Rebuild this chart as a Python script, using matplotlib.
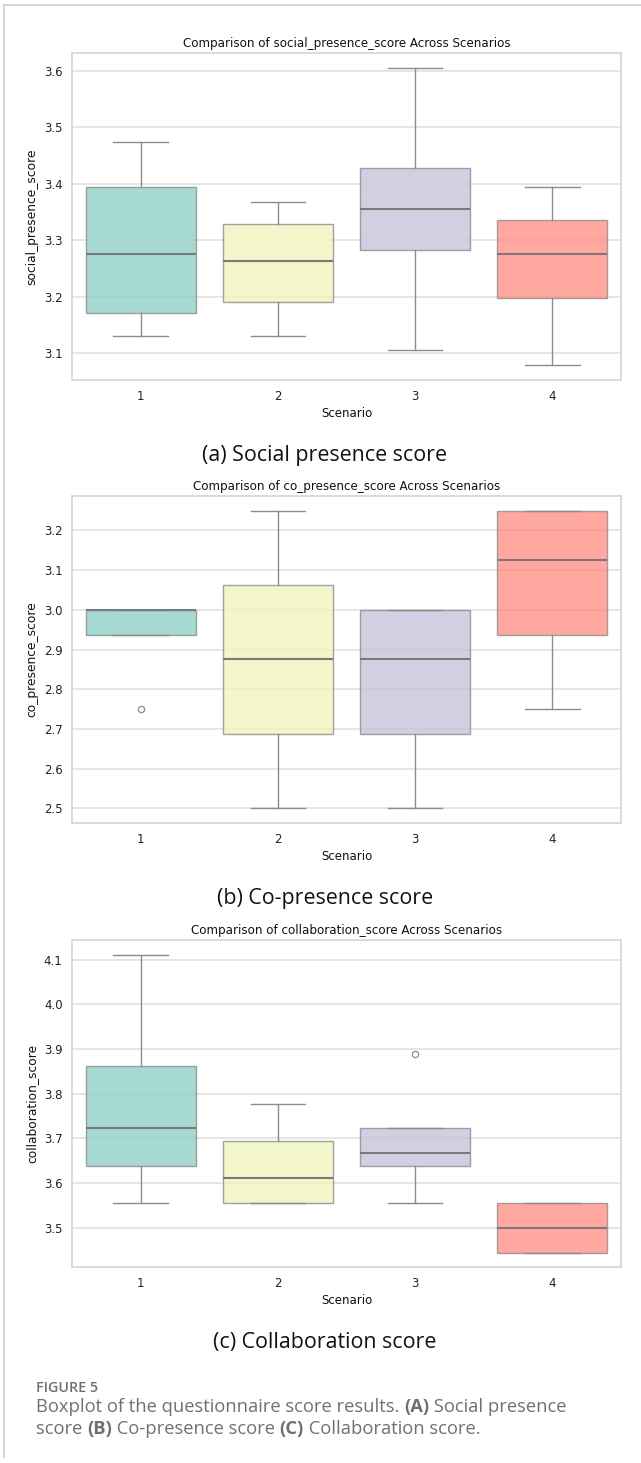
import matplotlib
matplotlib.use('Agg')
import matplotlib.pyplot as plt
from matplotlib.lines import Line2D

# scenarios on the x axis
SCENARIOS = ['1', '2', '3', '4']

# social presence score: whisker low, q1, median, q3, whisker high
SP_WHISLO = [3.1316, 3.1316, 3.1053, 3.0789]
SP_Q1 = [3.1711, 3.1908, 3.2829, 3.1974]
SP_MED = [3.2763, 3.2632, 3.3553, 3.2763]
SP_Q3 = [3.3947, 3.3289, 3.4276, 3.3355]
SP_WHISHI = [3.4737, 3.3684, 3.6053, 3.3947]
SP_FLIERS = [[], [], [], []]

# co-presence score
CP_WHISLO = [2.9375, 2.5, 2.5, 2.75]
CP_Q1 = [2.9375, 2.6875, 2.6875, 2.9375]
CP_MED = [3.0, 2.875, 2.875, 3.125]
CP_Q3 = [3.0, 3.0625, 3.0, 3.25]
CP_WHISHI = [3.0, 3.25, 3.0, 3.25]
CP_FLIERS = [[2.75], [], [], []]

# collaboration score
CO_WHISLO = [3.5556, 3.5556, 3.5556, 3.4444]
CO_Q1 = [3.6389, 3.5556, 3.6389, 3.4444]
CO_MED = [3.7222, 3.6111, 3.6667, 3.5]
CO_Q3 = [3.8611, 3.6944, 3.7222, 3.5556]
CO_WHISHI = [4.1111, 3.7778, 3.7222, 3.5556]
CO_FLIERS = [[], [], [3.8889], []]

PANELS = [
    ('social_presence_score', '(a) Social presence score',
     SP_WHISLO, SP_Q1, SP_MED, SP_Q3, SP_WHISHI, SP_FLIERS),
    ('co_presence_score', '(b) Co-presence score',
     CP_WHISLO, CP_Q1, CP_MED, CP_Q3, CP_WHISHI, CP_FLIERS),
    ('collaboration_score', '(c) Collaboration score',
     CO_WHISLO, CO_Q1, CO_MED, CO_Q3, CO_WHISHI, CO_FLIERS),
]

# box colours (Set3-like, seen through alpha)
BOX_COLORS = ['#90d0c7', '#f1f3bd', '#c9c3db', '#fe9288']
LINE_COLOR = '#8c8c8c'
GRID_COLOR = '#e0e0e0'
CAPTION_GRAY = '#6f7072'

W, H = 641, 1463
plt.rcParams['font.family'] = ['DejaVu Sans']
fig = plt.figure(figsize=(W / 100, H / 100), dpi=100)


def fx(px):
    return px / W


def fy(py):
    return 1 - py / H


AX_LEFT, AX_RIGHT = 72.3, 620.7
AX_TOPS = [52.7, 495.7, 939.9]
AX_HEIGHT = 327.5

for i, (name, sub, wlo, q1, med, q3, whi, fl) in enumerate(PANELS):
    top = AX_TOPS[i]
    ax = fig.add_axes([fx(AX_LEFT), fy(top + AX_HEIGHT), fx(AX_RIGHT - AX_LEFT), AX_HEIGHT / H])
    stats = []
    for k in range(len(SCENARIOS)):
        stats.append({'whislo': wlo[k], 'q1': q1[k], 'med': med[k], 'q3': q3[k],
                      'whishi': whi[k], 'fliers': fl[k], 'label': SCENARIOS[k]})
    bp = ax.bxp(stats, positions=range(len(SCENARIOS)), widths=0.8, capwidths=0.4,
                patch_artist=True, showfliers=True,
                boxprops=dict(edgecolor=LINE_COLOR, linewidth=1.0),
                whiskerprops=dict(color=LINE_COLOR, linewidth=1.0),
                capprops=dict(color=LINE_COLOR, linewidth=1.0),
                medianprops=dict(color='#7a7a7a', linewidth=1.5),
                flierprops=dict(marker='o', markerfacecolor='none', markeredgecolor=LINE_COLOR,
                                markersize=4.5, markeredgewidth=0.9))
    for patch, c in zip(bp['boxes'], BOX_COLORS):
        patch.set_facecolor(c)
        patch.set_alpha(0.8)
        patch.set_edgecolor(LINE_COLOR)
    ax.set_xlim(-0.5, 3.5)
    ax.set_axisbelow(True)
    ax.yaxis.grid(True, color=GRID_COLOR, linewidth=1.2)
    ax.xaxis.grid(False)
    for sp in ax.spines.values():
        sp.set_color('#d4d4d4')
        sp.set_linewidth(1.2)
    ax.tick_params(axis='both', length=0, labelsize=8.5, colors='#222222')
    ax.tick_params(axis='x', pad=7)
    ax.tick_params(axis='y', pad=7)
    ax.set_title('Comparison of ' + name + ' Across Scenarios', fontsize=8.6, pad=4, color='#111111')
    ax.set_xlabel('Scenario', fontsize=8.5, labelpad=3, color='#111111')
    ax.set_ylabel(name, fontsize=8.8, labelpad=4, color='#111111')
    # sub caption
    fig.text(fx(325), fy(top + AX_HEIGHT + 75), sub, ha='center', va='center',
             fontsize=15.4, family=['Open Sans', 'DejaVu Sans'], color='#111111')

# figure caption
fig.text(fx(36), fy(1387.5), 'FIGURE 5', ha='left', va='center', fontsize=10.3,
         family=['Open Sans', 'DejaVu Sans'], weight='semibold', color=CAPTION_GRAY)

CAPTION_LINES = [
    [('Boxplot of the questionnaire score results. ', 'normal'), ('(A)', 'bold'),
     (' Social presence', 'normal')],
    [('score ', 'normal'), ('(B)', 'bold'), (' Co-presence score ', 'normal'), ('(C)', 'bold'),
     (' Collaboration score.', 'normal')],
]
CAPTION_Y = [1407, 1429]

renderer = fig.canvas.get_renderer()
for line, ypx in zip(CAPTION_LINES, CAPTION_Y):
    x = fx(36)
    for txt, weight in line:
        t = fig.text(x, fy(ypx), txt, ha='left', va='center', fontsize=13.2,
                     family=['Open Sans', 'DejaVu Sans'], weight=weight, color=CAPTION_GRAY)
        bb = t.get_window_extent(renderer=renderer)
        x = x + bb.width / W

# page border lines (top and left)
fig.add_artist(Line2D([fx(4.3), 1], [fy(5), fy(5)], color='#d3d3d3', linewidth=1.3))
fig.add_artist(Line2D([fx(4.3), fx(4.3)], [fy(5), fy(1457)], color='#d3d3d3', linewidth=1.3))

fig.savefig('out.png', dpi=100)
